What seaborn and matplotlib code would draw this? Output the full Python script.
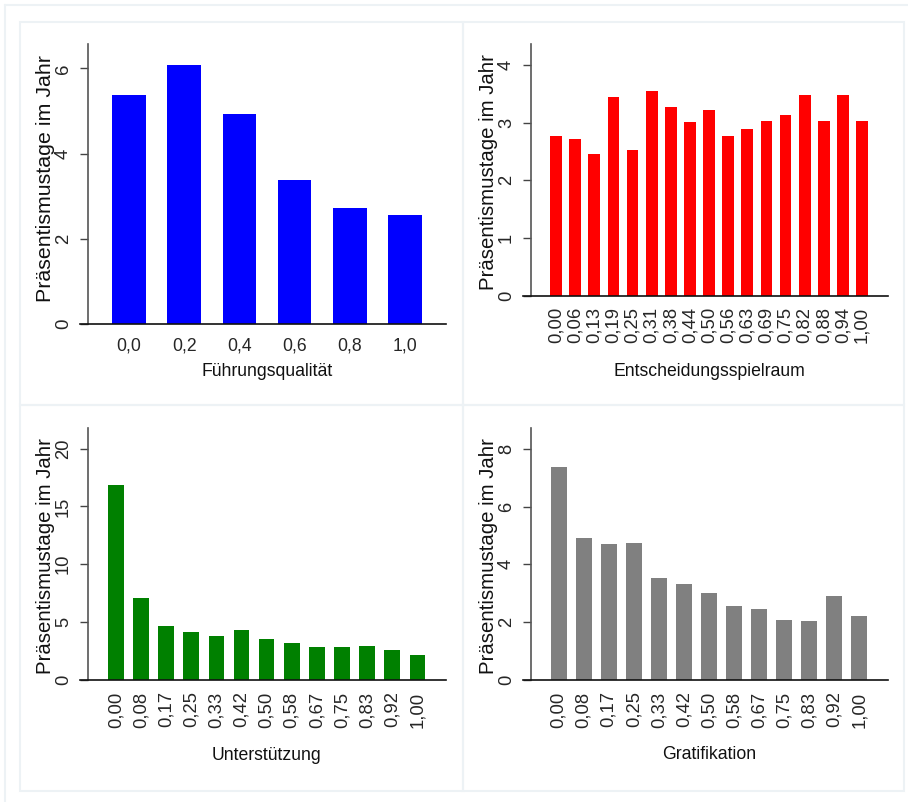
import matplotlib
matplotlib.use("Agg")
import matplotlib.pyplot as plt
from matplotlib import font_manager
from matplotlib.lines import Line2D
from matplotlib.patches import Rectangle
import seaborn as sns
import pandas as pd

# ---- data -------------------------------------------------------------
fuehrung_labels = ["0,0", "0,2", "0,4", "0,6", "0,8", "1,0"]
fuehrung_values = [5.37, 6.08, 4.93, 3.38, 2.72, 2.55]

entscheidung_labels = ["0,00", "0,06", "0,13", "0,19", "0,25", "0,31", "0,38",
                       "0,44", "0,50", "0,56", "0,63", "0,69", "0,75", "0,82",
                       "0,88", "0,94", "1,00"]
entscheidung_values = [2.77, 2.72, 2.45, 3.44, 2.52, 3.55, 3.27, 3.01, 3.22,
                       2.77, 2.89, 3.02, 3.13, 3.47, 3.03, 3.47, 3.03]

twelfths_labels = ["0,00", "0,08", "0,17", "0,25", "0,33", "0,42", "0,50",
                   "0,58", "0,67", "0,75", "0,83", "0,92", "1,00"]
unterstuetzung_values = [16.83, 7.11, 4.64, 4.18, 3.83, 4.35, 3.57, 3.22,
                         2.88, 2.88, 2.94, 2.59, 2.13]
gratifikation_values = [7.37, 4.91, 4.71, 4.73, 3.52, 3.32, 3.00, 2.57,
                        2.46, 2.09, 2.04, 2.92, 2.20]

ylabel_text = "Präsentismustage im Jahr"

# ---- style ------------------------------------------------------------
sns.set_style("white")
installed = {f.name for f in font_manager.fontManager.ttflist}
narrow = "Liberation Sans Narrow" if "Liberation Sans Narrow" in installed else "Liberation Sans"
narrow_scale = 1.0 if narrow == "Liberation Sans Narrow" else 0.86
plt.rcParams["font.family"] = ["Liberation Sans", "DejaVu Sans"]

W, H = 908, 802
fig = plt.figure(figsize=(W / 100, H / 100), dpi=100)
fig.patch.set_facecolor("white")

frame_col = "#edf2f5"


def fx(px):
    return px / W


def fy(py):
    return 1 - py / H


# outer frame lines (top and left) and the four panel boxes
fig.add_artist(Line2D([fx(5), fx(W)], [fy(5), fy(5)], color=frame_col, lw=1.5))
fig.add_artist(Line2D([fx(5), fx(5)], [fy(5), fy(H)], color=frame_col, lw=1.5))
for (x0, y0, x1, y1) in [(20, 22, 463, 405), (463, 22, 904, 405),
                         (20, 405, 463, 791), (463, 405, 904, 791)]:
    fig.add_artist(Rectangle((fx(x0), fy(y1)), fx(x1 - x0), (y1 - y0) / H,
                             fill=False, edgecolor=frame_col, lw=1.5))


def panel(box, labels, values, color, xlabel, ymax, yticks, xlim, width,
          rotate, ylab_pos, xlab_y, ylab_size=14.7, ytick_size=13.2):
    x0, y0, x1, y1 = box
    ax = fig.add_axes([fx(x0), fy(y1), fx(x1 - x0), (y1 - y0) / H])
    df = pd.DataFrame({"cat": labels, "val": values})
    sns.barplot(data=df, x="cat", y="val", order=labels, color=color,
                saturation=1, width=width, errorbar=None, ax=ax,
                linewidth=0)
    ax.set_xlim(*xlim)
    ax.set_ylim(0, ymax)
    ax.set_yticks(yticks)
    ax.set_yticklabels([str(t) for t in yticks])
    ax.set_facecolor("white")
    for s in ("top", "right"):
        ax.spines[s].set_visible(False)
    ax.spines["left"].set_color("#555555")
    ax.spines["left"].set_linewidth(1.2)
    ax.spines["bottom"].set_color("#111111")
    ax.spines["bottom"].set_linewidth(1.2)
    ax.spines["bottom"].set_bounds(xlim[0] - (xlim[1] - xlim[0]) * 0.022, xlim[1])
    ax.tick_params(axis="y", length=5.8, width=1.0, color="#444444",
                   pad=5.8, labelsize=ytick_size,
                   labelrotation=90, direction="out", left=True)
    for lab in ax.get_yticklabels():
        lab.set_va("center")
        lab.set_ha("right")
    if rotate:
        ax.tick_params(axis="x", length=0, labelsize=13.3, labelrotation=90, pad=8.2)
        for lab in ax.get_xticklabels():
            lab.set_va("top")
            lab.set_ha("center")
    else:
        ax.tick_params(axis="x", length=0, pad=9.4)
        for lab in ax.get_xticklabels():
            lab.set_fontfamily(narrow)
            lab.set_fontsize(14.8 * narrow_scale)
    ax.set_xlabel(xlabel, fontfamily=narrow, fontsize=14.8 * narrow_scale,
                  color="#111111")
    ax.xaxis.set_label_coords(0.5, xlab_y)
    ax.xaxis.label.set_va("center")
    ax.set_ylabel(ylabel_text, fontsize=ylab_size, color="#111111")
    ax.yaxis.set_label_coords(ylab_pos[0], ylab_pos[1])
    ax.yaxis.label.set_va("center")
    ax.yaxis.label.set_ha("center")
    return ax


panel((88, 44, 446, 324), fuehrung_labels, fuehrung_values, "#0000ff",
      "Führungsqualität", 6.57, [0, 2, 4, 6], (-0.74, 5.74), 0.61,
      False, (-0.119, 0.521), -0.170, ylab_size=15.4, ytick_size=13.4)
panel((531, 44, 887.7, 295.7), entscheidung_labels, entscheidung_values, "#ff0000",
      "Entscheidungsspielraum", 4.36, [0, 1, 2, 3, 4], (-1.31, 17.34), 0.61,
      True, (-0.120, 0.493), -0.301)
panel((88, 427.7, 445.7, 680), twelfths_labels, unterstuetzung_values, "#008000",
      "Unterstützung", 21.8, [0, 5, 10, 15, 20], (-1.11, 13.13), 0.62,
      True, (-0.118, 0.493), -0.301)
panel((531, 427.7, 887.7, 680), twelfths_labels, gratifikation_values, "#808080",
      "Gratifikation", 8.73, [0, 2, 4, 6, 8], (-1.10, 13.13), 0.64,
      True, (-0.120, 0.493), -0.297)

fig.savefig("out.png", dpi=100, facecolor="white")
